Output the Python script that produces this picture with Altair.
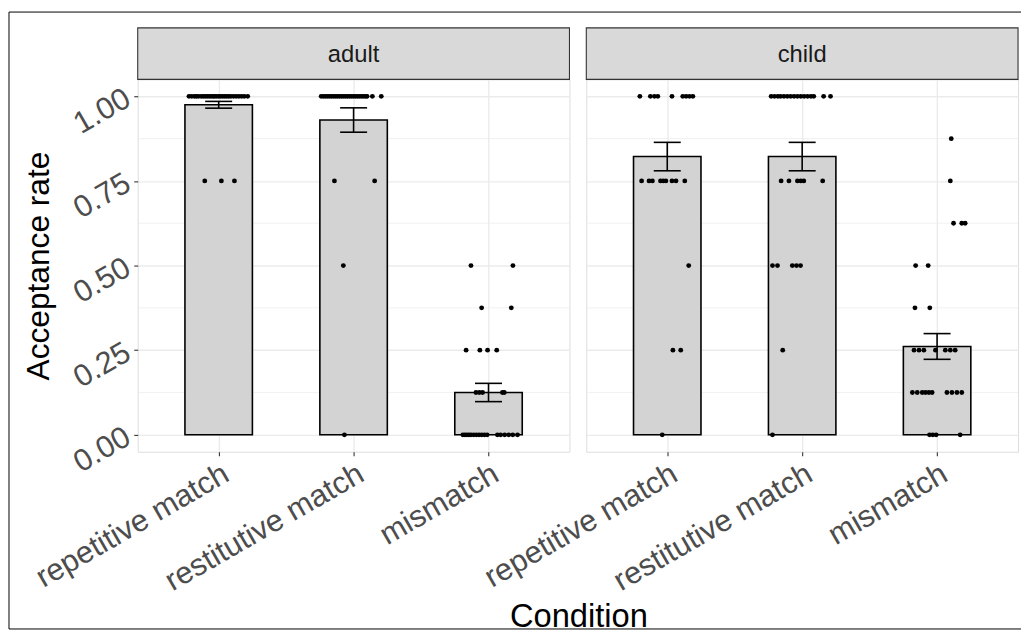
import json
import altair as alt
import pandas as pd

# ---------------- data ----------------
conditions = ["repetitive match", "restitutive match", "mismatch"]
groups = ["adult", "child"]

bar_group = ["adult", "adult", "adult", "child", "child", "child"]
bar_condition = ["repetitive match", "restitutive match", "mismatch",
                 "repetitive match", "restitutive match", "mismatch"]
bar_mean = [0.975, 0.930, 0.125, 0.822, 0.822, 0.261]
bar_se = [0.010, 0.036, 0.027, 0.042, 0.042, 0.038]

# individual participant rates and their horizontal jitter (category units)
adult_rep_vals = [1.0] * 27 + [0.75] * 3
adult_rep_jit = [-0.22, -0.20, -0.18, -0.165, -0.15, -0.13, -0.115, -0.10, -0.085,
                 -0.07, -0.055, -0.04, -0.03, -0.015, 0.0, 0.015, 0.03, 0.045,
                 0.06, 0.075, 0.09, 0.11, 0.13, 0.15, 0.17, 0.19, 0.215,
                 -0.103, 0.020, 0.117]

adult_res_vals = [1.0] * 26 + [0.75] * 2 + [0.5] + [0.0]
adult_res_jit = [-0.24, -0.225, -0.21, -0.195, -0.18, -0.165, -0.15, -0.135, -0.12,
                 -0.105, -0.09, -0.075, -0.06, -0.045, -0.03, -0.015, 0.0, 0.015,
                 0.03, 0.045, 0.06, 0.075, 0.09, 0.10, 0.139, 0.205,
                 -0.142, 0.156, -0.076, -0.068]

adult_mis_vals = [0.5] * 2 + [0.375] * 2 + [0.25] * 4 + [0.125] * 5 + [0.0] * 17
adult_mis_jit = [-0.130, 0.181, -0.051, 0.169, -0.166, -0.064, -0.007, 0.061,
                 -0.093, -0.068, -0.044, 0.103, 0.117,
                 -0.19, -0.175, -0.16, -0.145, -0.13, -0.11, -0.09, -0.07, -0.05,
                 -0.03, -0.01, 0.066, 0.09, 0.12, 0.15, 0.18, 0.215]

child_rep_vals = [1.0] * 9 + [0.75] * 9 + [0.5] + [0.25] * 2 + [0.0]
child_rep_jit = [-0.203, -0.125, -0.095, -0.07, 0.035, 0.115, 0.14, 0.165, 0.19,
                 -0.19, -0.135, -0.11, -0.05, -0.03, -0.01, 0.035, 0.065, 0.13,
                 0.159, 0.042, 0.10, -0.037]

child_res_vals = [1.0] * 16 + [0.75] * 6 + [0.5] * 5 + [0.25] + [0.0]
child_res_jit = [-0.23, -0.205, -0.18, -0.16, -0.135, -0.11, -0.085, -0.06, -0.035,
                 -0.01, 0.015, 0.04, 0.065, 0.086, 0.159, 0.21,
                 -0.156, -0.098, -0.035, -0.01, 0.012, 0.152,
                 -0.22, -0.183, -0.073, -0.042, -0.012, -0.144, -0.22]

child_mis_vals = ([0.875] + [0.75] + [0.625] * 3 + [0.5] * 2 + [0.375] * 2
                  + [0.25] * 7 + [0.125] * 10 + [0.0] * 4)
child_mis_jit = [0.105, 0.098, 0.122, 0.183, 0.208, -0.159, -0.066, -0.164, -0.054,
                 -0.171, -0.134, -0.098, -0.012, 0.061, 0.098, 0.134,
                 -0.183, -0.147, -0.11, -0.086, -0.061, -0.037, 0.073, 0.11, 0.147, 0.183,
                 -0.056, -0.032, -0.007, 0.171]

y_ticks = [0.0, 0.25, 0.5, 0.75, 1.0]
y_minor = [0.125, 0.375, 0.625, 0.875]

# ---------------- tables ----------------
bars = pd.DataFrame({"group": bar_group, "condition": bar_condition,
                     "mean": bar_mean, "se": bar_se})
bars["idx"] = [conditions.index(c) for c in bars["condition"]]

point_sets = [
    ("adult", "repetitive match", adult_rep_vals, adult_rep_jit),
    ("adult", "restitutive match", adult_res_vals, adult_res_jit),
    ("adult", "mismatch", adult_mis_vals, adult_mis_jit),
    ("child", "repetitive match", child_rep_vals, child_rep_jit),
    ("child", "restitutive match", child_res_vals, child_res_jit),
    ("child", "mismatch", child_mis_vals, child_mis_jit),
]
rows = []
for g, c, vals, jits in point_sets:
    for v, j in zip(vals, jits):
        rows.append({"group": g, "condition": c, "rate": v,
                     "idx": conditions.index(c), "jitter": j})
points = pd.DataFrame(rows)

minor_df = pd.DataFrame({"v": y_minor})

PW, PH = 436, 376
FONT = "Liberation Sans"
LABEL_SIZE = 31
label_expr = json.dumps(conditions) + "[datum.value]"

xs = alt.Scale(domain=[-0.6, 2.6], nice=False, zero=False)
ys = alt.Scale(domain=[-0.05, 1.05], nice=False, zero=False)


def make_panel(g, first):
    x_axis = alt.Axis(values=[0, 1, 2], labelExpr=label_expr, grid=True,
                      gridColor="#EBEBEB", gridWidth=1.4, domain=False,
                      ticks=True, tickColor="#333333", tickSize=4, tickWidth=1.1,
                      labelAngle=330, labelAlign="right", labelBaseline="top",
                      labelFontSize=LABEL_SIZE, labelColor="#4D4D4D", labelPadding=3,
                      labelFont=FONT, labelOverlap=False, labelBound=False,
                      labelLimit=1000,
                      title="Condition" if first else "",
                      titleFontSize=33, titleFontWeight="normal", titleColor="#000000",
                      titleFont=FONT, titleX=445, titleY=176, titleAlign="center",
                      titleBaseline="alphabetic", titleAngle=0)
    if first:
        y_axis = alt.Axis(values=y_ticks, format=".2f", grid=True, gridColor="#EBEBEB",
                          gridWidth=1.4, domain=False, ticks=True, tickColor="#333333",
                          tickSize=4, tickWidth=1.1, labelAngle=330, labelAlign="right",
                          labelBaseline="middle", labelFontSize=LABEL_SIZE,
                          labelColor="#4D4D4D", labelPadding=6, labelFont=FONT,
                          labelOverlap=False, labelBound=False, labelLimit=1000,
                          title="Acceptance rate", titleFontSize=32,
                          titleFontWeight="normal", titleColor="#000000", titleFont=FONT,
                          titleAngle=270, titleX=-100, titleY=PH / 2,
                          titleAlign="center", titleBaseline="middle")
    else:
        y_axis = alt.Axis(values=y_ticks, grid=True, gridColor="#EBEBEB", gridWidth=1.4,
                          domain=False, ticks=False, labels=False, title="")

    bdf = bars[bars["group"] == g]
    pdf = points[points["group"] == g]

    minor = alt.Chart(minor_df).mark_rule(color="#EBEBEB", strokeWidth=0.7).encode(
        y=alt.Y("v:Q", scale=ys, axis=y_axis)
    )

    base_b = alt.Chart(bdf).transform_calculate(
        x_lo="datum.idx - 0.25", x_hi="datum.idx + 0.25",
        c_lo="datum.idx - 0.1", c_hi="datum.idx + 0.1",
        lo="datum.mean - datum.se", hi="datum.mean + datum.se", zero="0"
    )
    bar = base_b.mark_bar(fill="#D3D3D3", stroke="#000000", strokeWidth=1.6).encode(
        x=alt.X("x_lo:Q", scale=xs, axis=x_axis), x2="x_hi:Q",
        y=alt.Y("mean:Q", scale=ys, axis=y_axis), y2="zero:Q",
    )
    err = base_b.mark_rule(color="#000000", strokeWidth=1.6).encode(
        x=alt.X("idx:Q", scale=xs, axis=x_axis),
        y=alt.Y("lo:Q", scale=ys, axis=y_axis), y2="hi:Q",
    )
    cap_lo = base_b.mark_rule(color="#000000", strokeWidth=1.6).encode(
        x=alt.X("c_lo:Q", scale=xs, axis=x_axis), x2="c_hi:Q",
        y=alt.Y("lo:Q", scale=ys, axis=y_axis),
    )
    cap_hi = base_b.mark_rule(color="#000000", strokeWidth=1.6).encode(
        x=alt.X("c_lo:Q", scale=xs, axis=x_axis), x2="c_hi:Q",
        y=alt.Y("hi:Q", scale=ys, axis=y_axis),
    )
    pts = alt.Chart(pdf).transform_calculate(
        xj="datum.idx + datum.jitter"
    ).mark_circle(color="#000000", opacity=1, size=24).encode(
        x=alt.X("xj:Q", scale=xs, axis=x_axis),
        y=alt.Y("rate:Q", scale=ys, axis=y_axis),
    )

    strip_df = pd.DataFrame({"group": [g]})
    strip = alt.Chart(strip_df).mark_rect(fill="#D9D9D9", stroke="#333333",
                                          strokeWidth=1.1).encode(
        x=alt.value(0), x2=alt.value(PW), y=alt.value(-52), y2=alt.value(0)
    )
    strip_txt = alt.Chart(strip_df).mark_text(fontSize=24, font=FONT, color="#1A1A1A",
                                              align="center", baseline="middle").encode(
        text="group:N", x=alt.value(PW / 2), y=alt.value(-25)
    )
    layers = [minor, bar, err, cap_lo, cap_hi, pts, strip, strip_txt]
    if first:
        # outer figure frame (top, left, bottom edges; right edge lies beyond the image)
        fr = dict(color="#000000", strokeWidth=1)
        top = alt.Chart(strip_df).mark_rule(**fr).encode(
            x=alt.value(-130), x2=alt.value(892), y=alt.value(-68))
        left = alt.Chart(strip_df).mark_rule(**fr).encode(
            x=alt.value(-130), y=alt.value(-68), y2=alt.value(555))
        bottom = alt.Chart(strip_df).mark_rule(**fr).encode(
            x=alt.value(-130), x2=alt.value(892), y=alt.value(555))
        layers += [top, left, bottom]
    return alt.layer(*layers).properties(width=PW, height=PH)


chart = alt.hconcat(make_panel("adult", True), make_panel("child", False),
                    spacing=17, bounds="flush").properties(
    padding=0, background="#FFFFFF"
).configure_view(stroke="#333333", strokeWidth=1.1).configure(font=FONT)

chart.save("out.html", embed_options={"renderer": "svg", "actions": False})
